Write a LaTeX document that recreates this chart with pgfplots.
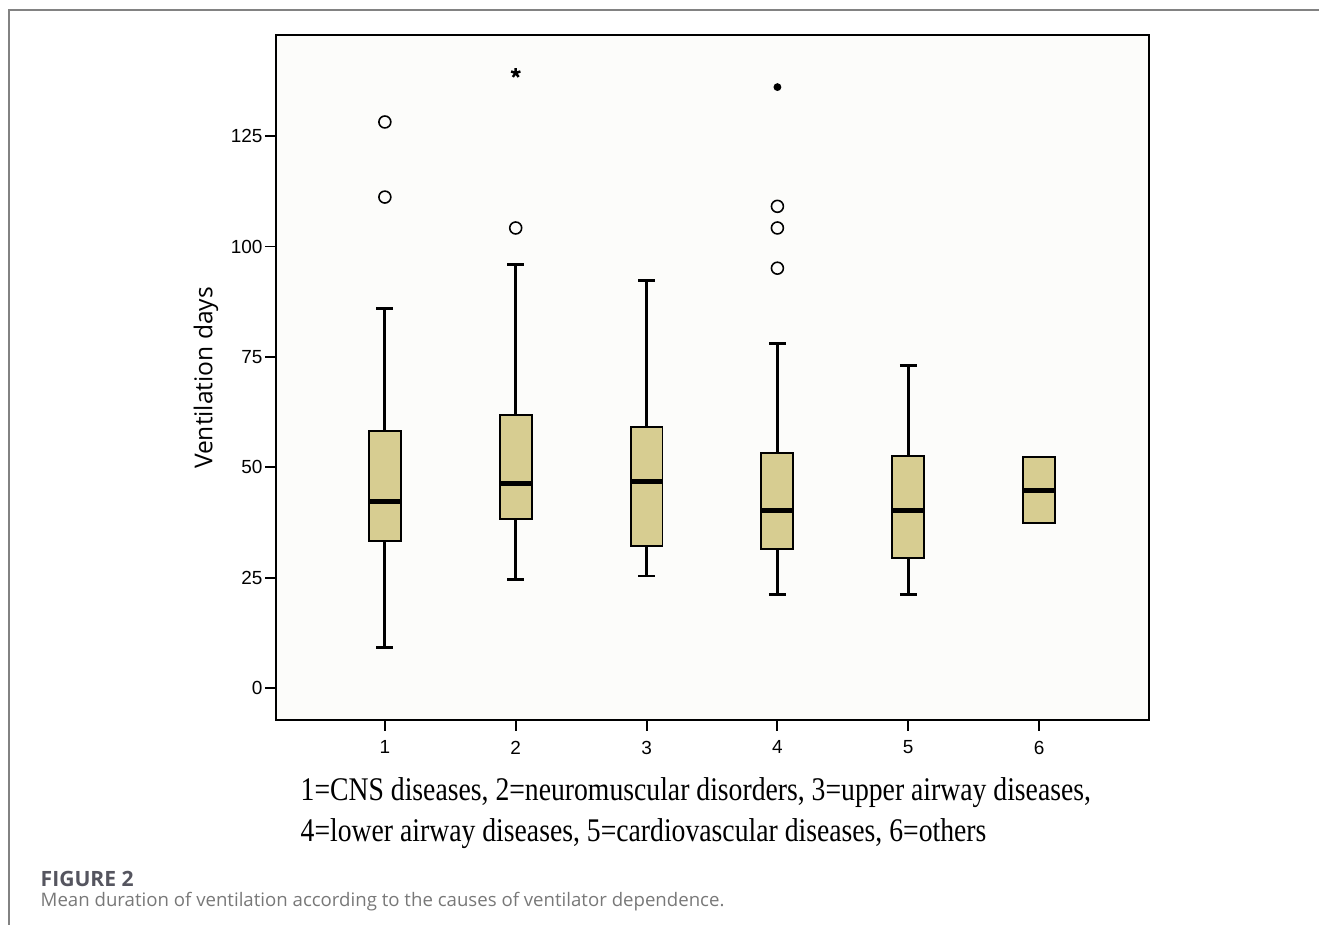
\documentclass[border=0pt]{standalone}
\usepackage{fontspec}
\usepackage{graphicx}
\usepackage{pgfplots}
\pgfplotsset{compat=1.18}
\usepgfplotslibrary{statistics}
\setmainfont{Liberation Serif}
\newfontfamily\ticksans{Liberation Sans}
\newfontfamily\osans{Open Sans}
\definecolor{boxfill}{RGB}{215,205,145}
\definecolor{plotbg}{RGB}{252,252,250}
\definecolor{framegray}{RGB}{130,130,130}
\definecolor{figlab}{RGB}{85,85,95}
\definecolor{capgray}{RGB}{120,120,120}

\begin{document}
\begin{tikzpicture}
% page area, 1 px of the reference = 0.01cm
\path[use as bounding box] (0,0) rectangle (13.19cm,9.25cm);
\draw[framegray, line width=0.55pt] (0.09cm,0) -- (0.09cm,9.15cm) -- (13.19cm,9.15cm);

\begin{axis}[
  at={(2.76cm,2.05cm)}, anchor=south west,
  scale only axis, width=8.73cm, height=6.85cm,
  xmin=0.168, xmax=6.84, ymin=-7.2, ymax=147.9,
  xtick={1,2,3,4,5,6}, ytick={0,25,50,75,100,125},
  xtick pos=bottom, ytick pos=left, tick align=outside,
  major tick length=0.11cm,
  every tick/.style={black, line width=0.55pt},
  axis line style={line width=0.6pt},
  axis background/.style={fill=plotbg},
  tick label style={font=\ticksans\fontsize{5.4}{6}\selectfont, inner sep=0.5pt},
  /pgf/number format/assume math mode=true,
  xticklabel style={yshift=-2.1pt},
  yticklabel style={xshift=0pt},
  boxplot/draw direction=y,
  boxplot/box extend=0.244,
  boxplot/whisker extend=0.13,
  boxplot/every box/.style={draw=black, line width=0.55pt, fill=boxfill},
  boxplot/every whisker/.style={line width=0.85pt},
  boxplot/every median/.style={line width=1.4pt},
]
\addplot[black, mark=o, mark size=1.7pt, mark options={line width=0.45pt},
  boxplot prepared={draw position=1, lower whisker=9.3, lower quartile=33.3,
    median=42.3, upper quartile=58.2, upper whisker=86}]
  coordinates {(0,128.2) (0,111.2)};
\addplot[black, mark=o, mark size=1.7pt, mark options={line width=0.45pt},
  boxplot prepared={draw position=2, lower whisker=24.5, lower quartile=38.3,
    median=46.4, upper quartile=61.8, upper whisker=96}]
  coordinates {(0,104.2)};
\addplot[black, mark=o, mark size=1.7pt, mark options={line width=0.45pt},
  boxplot prepared={draw position=3, lower whisker=25.4, lower quartile=32.2,
    median=46.9, upper quartile=59.1, upper whisker=92.2}]
  coordinates {};
\addplot[black, mark=o, mark size=1.7pt, mark options={line width=0.45pt},
  boxplot prepared={draw position=4, lower whisker=21.3, lower quartile=31.5,
    median=40.3, upper quartile=53.2, upper whisker=78.1}]
  coordinates {(0,109.1) (0,104.2) (0,95.1)};
\addplot[black, mark=o, mark size=1.7pt, mark options={line width=0.45pt},
  boxplot prepared={draw position=5, lower whisker=21.3, lower quartile=29.4,
    median=40.3, upper quartile=52.5, upper whisker=73.1}]
  coordinates {};
\addplot[black, mark=o, mark size=1.7pt, mark options={line width=0.45pt},
  boxplot prepared={draw position=6, lower whisker=37.4, lower quartile=37.4,
    median=44.8, upper quartile=52.3, upper whisker=52.3}]
  coordinates {};
% extreme values
\addplot[only marks, black, mark=star, mark size=1.4pt, mark options={line width=0.7pt}]
  coordinates {(2,139.3)};
\addplot[only marks, black, mark=*, mark size=0.9pt]
  coordinates {(4,136.1)};
\end{axis}

\node[rotate=90, inner sep=0, font=\osans\fontsize{7}{8}\selectfont] at (2.06cm,5.47cm) {Ventilation days};

\node[anchor=west, inner sep=0, font=\fontsize{9.4}{11}\selectfont] at (3.00cm,1.32cm)
  {\scalebox{0.838}[1]{1=CNS diseases, 2=neuromuscular disorders, 3=upper airway diseases,}};
\node[anchor=west, inner sep=0, font=\fontsize{9.4}{11}\selectfont] at (3.00cm,0.91cm)
  {\scalebox{0.838}[1]{4=lower airway diseases, 5=cardiovascular diseases, 6=others}};

\node[anchor=west, inner sep=0, text=figlab, font=\osans\bfseries\fontsize{6}{7}\selectfont] at (0.40cm,0.46cm) {FIGURE 2};
\node[anchor=west, inner sep=0, text=capgray, font=\osans\fontsize{5.3}{7}\selectfont] at (0.40cm,0.23cm)
  {Mean duration of ventilation according to the causes of ventilator dependence.};
\end{tikzpicture}
\end{document}
